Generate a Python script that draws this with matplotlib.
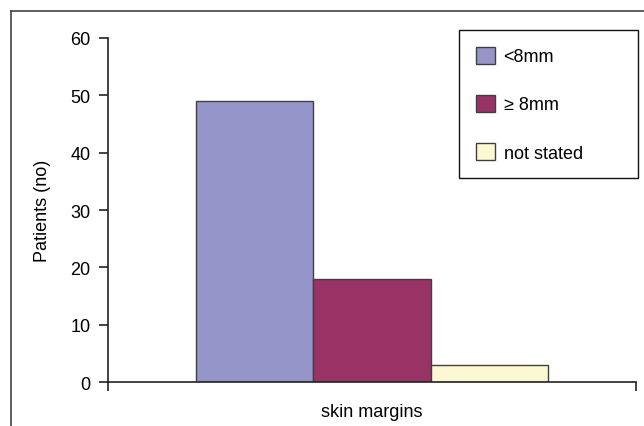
import numpy as np
import matplotlib
matplotlib.use('Agg')
from matplotlib import pyplot as plt
from matplotlib.lines import Line2D

plt.rcParams['font.family'] = ['Liberation Sans', 'DejaVu Sans']

# patient counts by skin margin
labels = ['<8mm', '\u2265 8mm', 'not stated']
counts = [49, 18, 3]
colors = ['#9595C9', '#993366', '#FCF9D2']
category = 'skin margins'

fig = plt.figure(figsize=(6.44, 4.27), dpi=100)
ax = fig.add_axes([0.1677, 0.103, 0.82, 0.8057])

group_width = 2 / 3
width = group_width / len(counts)
left = 0.5 - group_width / 2
for i, (lab, val, col) in enumerate(zip(labels, counts, colors)):
    ax.bar(left + i * width, val, width=width, align='edge', color=col,
           edgecolor='#404040', linewidth=1.0, label=lab)

ax.set_xlim(0, 1)
ax.set_ylim(0, 60)
ax.set_yticks(np.arange(0, 61, 10))
ax.set_xticks([0, 1])
ax.set_xticklabels(['', ''])
ax.set_xticks([0.5], minor=True)
ax.set_xticklabels([category], minor=True)
ax.tick_params(axis='x', which='minor', length=0, pad=15, labelsize=13)
ax.tick_params(axis='x', which='major', length=6.5, width=1.2, color='#222222')
ax.tick_params(axis='y', length=6.5, width=1.2, color='#222222', labelsize=13, pad=6)
ax.set_ylabel('Patients (no)', fontsize=13, labelpad=14)

for side in ['top', 'right']:
    ax.spines[side].set_visible(False)
for side in ['left', 'bottom']:
    ax.spines[side].set_linewidth(1.2)
    ax.spines[side].set_color('#222222')

leg_top = 1 - 31 / 427
leg = ax.legend(loc='upper left', bbox_to_anchor=(459 / 644, leg_top - 0.5, 179 / 644, 0.5),
                bbox_transform=fig.transFigure, mode='expand', fontsize=13,
                handlelength=1.1, handleheight=1.1, handletextpad=0.45,
                labelspacing=1.62, borderpad=0.92, borderaxespad=0,
                fancybox=False, framealpha=1)
leg.get_frame().set_edgecolor('#111111')
leg.get_frame().set_linewidth(1.0)

# outer frame: left and top edges only
fig.add_artist(Line2D([11 / 644, 11 / 644], [0, 1 - 12 / 427], color='#444444', lw=1.2))
fig.add_artist(Line2D([11 / 644, 1], [1 - 12 / 427, 1 - 12 / 427], color='#444444', lw=1.2))

fig.savefig('out.png', dpi=100)
